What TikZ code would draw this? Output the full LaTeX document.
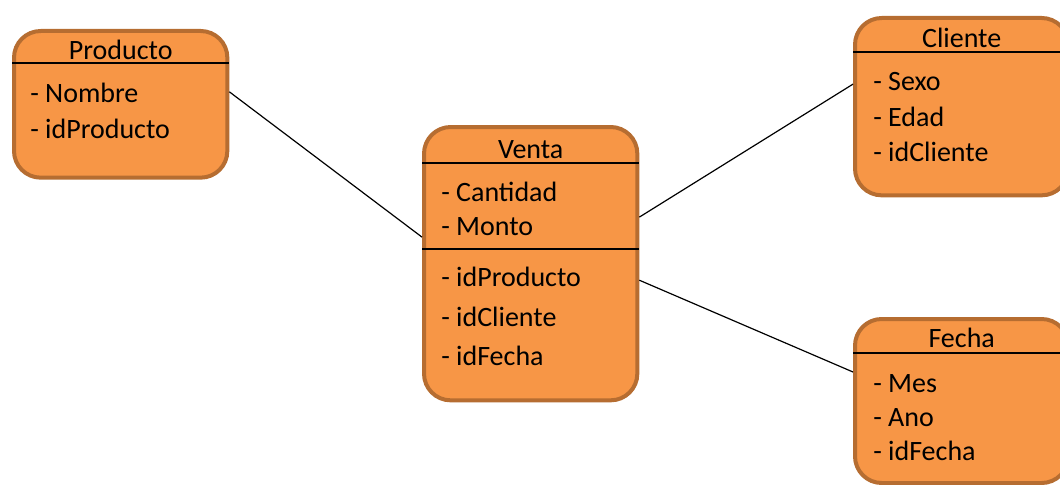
\documentclass[tikz,border=0pt]{standalone}
\usepackage{fontspec}
\setmainfont{Carlito}
\usetikzlibrary{positioning}
\definecolor{boxfill}{HTML}{F79646}
\definecolor{boxline}{HTML}{B66D31}

\begin{document}
\begin{tikzpicture}[x=0.75pt,y=-0.75pt,
    tablebox/.style={draw=boxline,fill=boxfill,line width=3pt,
        rounded corners=20pt,anchor=north west,inner sep=0pt,
        minimum width=160pt},
    title/.style={font=\fontsize{21}{25}\selectfont,anchor=base,inner sep=0pt},
    attr/.style={font=\fontsize{21}{25}\selectfont,anchor=base west,inner sep=0pt},
    divline/.style={draw,line width=1.2pt},
    link/.style={draw,line width=0.9pt}]
    \useasboundingbox (0,0) rectangle (1060,485);

    % tables
    \node[tablebox,minimum height=110pt] (prod) at (12,29) {};
    \node[tablebox,minimum height=205pt] (venta) at (422,125) {};
    \node[tablebox,minimum height=133pt] (cli) at (853,16) {};
    \node[tablebox,minimum height=123pt] (fecha) at (853,317) {};

    % header lines
    \path (prod.north) ++(0,34) coordinate (prodD);
    \path (venta.north) ++(0,38) coordinate (ventaD);
    \path (venta.north) ++(0,124) coordinate (ventaE);
    \path (cli.north) ++(0,36) coordinate (cliD);
    \path (fecha.north) ++(0,36) coordinate (fechaD);
    \draw[divline] (prod.west |- prodD) -- (prod.east |- prodD);
    \draw[divline] (venta.west |- ventaD) -- (venta.east |- ventaD);
    \draw[divline] (venta.west |- ventaE) -- (venta.east |- ventaE);
    \draw[divline] (cli.west |- cliD) -- (cli.east |- cliD);
    \draw[divline] (fecha.west |- fechaD) -- (fecha.east |- fechaD);

    % titles
    \node[title] (prodT) at ([yshift=2.5pt]prodD) {Producto};
    \node[title] (ventaT) at ([yshift=3.5pt]ventaD) {Venta};
    \node[title] (cliT) at ([yshift=3.5pt]cliD) {Cliente};
    \node[title] (fechaT) at ([yshift=4pt]fechaD) {Fecha};

    % attributes
    \node[attr] (prod1) at (30,103) {- Nombre};
    \node[attr] (prod2) at (30,138) {- idProducto};
    \node[attr] (venta1) at (441,201) {- Cantidad};
    \node[attr] (venta2) at (441,235) {- Monto};
    \node[attr] (venta3) at (441,286) {- idProducto};
    \node[attr] (venta4) at (441,326) {- idCliente};
    \node[attr] (venta5) at (441,365) {- idFecha};
    \node[attr] (cli1) at (873,91) {- Sexo};
    \node[attr] (cli2) at (873,126) {- Edad};
    \node[attr] (cli3) at (873,161) {- idCliente};
    \node[attr] (fecha1) at (873,392) {- Mes};
    \node[attr] (fecha2) at (873,426) {- Ano};
    \node[attr] (fecha3) at (873,460) {- idFecha};

    % links
    \draw[link] ([yshift=9.4pt]prod.east) -- ([yshift=19.9pt]venta.west);
    \draw[link] ([yshift=34.9pt]venta.east) -- ([yshift=16.9pt]cli.west);
    \draw[link] ([yshift=-12.4pt]venta.east) -- ([yshift=21.75pt]fecha.west);
\end{tikzpicture}
\end{document}
